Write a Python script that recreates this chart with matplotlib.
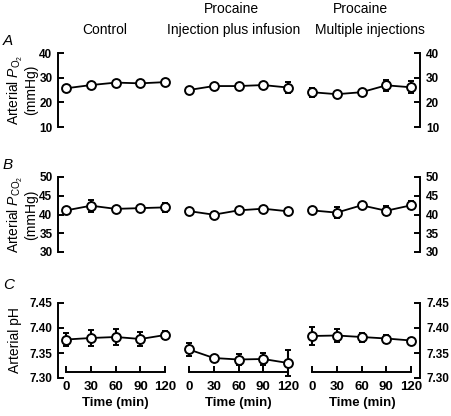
import numpy as np
import matplotlib
matplotlib.use('Agg')
import matplotlib.pyplot as plt

plt.rcParams['font.family'] = ['Liberation Sans', 'DejaVu Sans']
plt.rcParams['mathtext.fontset'] = 'custom'
plt.rcParams['mathtext.rm'] = 'Liberation Sans'
plt.rcParams['mathtext.it'] = 'Liberation Sans:italic'
plt.rcParams['mathtext.bf'] = 'Liberation Sans:bold'

times = [0, 30, 60, 90, 120]
groups = ['Control', 'Procaine\nInjection plus infusion', 'Procaine\nMultiple injections']

# panel A: arterial PO2 (mmHg)
po2_mean = [[25.7, 27.0, 28.0, 27.7, 28.2],
            [25.0, 26.6, 26.6, 27.0, 26.0],
            [24.1, 23.3, 24.1, 26.9, 26.1]]
po2_err = [[0.6, 0.6, 0.6, 0.6, 0.6],
           [0.6, 0.8, 0.6, 0.6, 2.3],
           [1.8, 0.6, 0.8, 2.2, 2.4]]

# panel B: arterial PCO2 (mmHg)
pco2_mean = [[41.1, 42.35, 41.5, 41.7, 41.9],
             [40.9, 39.95, 41.1, 41.55, 40.85],
             [41.1, 40.5, 42.45, 41.0, 42.45]]
pco2_err = [[0.5, 1.6, 0.5, 0.5, 1.3],
            [0.5, 0.6, 0.5, 0.5, 0.5],
            [0.5, 1.5, 0.5, 1.25, 1.1]]

# panel C: arterial pH
ph_mean = [[7.377, 7.380, 7.382, 7.378, 7.386],
           [7.357, 7.340, 7.337, 7.338, 7.330],
           [7.384, 7.385, 7.382, 7.379, 7.375]]
ph_err = [[0.0135, 0.016, 0.0155, 0.015, 0.008],
          [0.0135, 0.004, 0.012, 0.012, 0.025],
          [0.018, 0.0135, 0.009, 0.008, 0.005]]

rows = [
    ('A', po2_mean, po2_err, (10, 40), [10, 20, 30, 40], '%d',
     'Arterial $\\mathit{P}_{\\mathrm{O_2}}$\n(mmHg)'),
    ('B', pco2_mean, pco2_err, (30, 50), [30, 35, 40, 45, 50], '%d',
     'Arterial $\\mathit{P}_{\\mathrm{CO_2}}$\n(mmHg)'),
    ('C', ph_mean, ph_err, (7.30, 7.45), [7.30, 7.35, 7.40, 7.45], '%.2f',
     'Arterial pH'),
]

W, H = 452, 416
fig = plt.figure(figsize=(W / 100, H / 100), dpi=100)

pxmin = 0.825  # pixels per minute
lefts = [58, 180.75, 303.75]
xlims = [(-10, 130), (-10, 130), (-10, 131.5)]
row_tb = [(53, 127), (177, 252), (303, 378)]
letter_y = [41, 165, 285]
ylab_x = [22, 22, 15]

for r, (letter, means, errs, ylim, yticks, fmt, ylab) in enumerate(rows):
    top, bot = row_tb[r]
    for g in range(3):
        x0, x1 = xlims[g]
        axw = (x1 - x0) * pxmin
        ax = fig.add_axes([lefts[g] / W, 1 - bot / H, axw / W, (bot - top) / H])
        ax.patch.set_visible(False)
        ax.errorbar(times, means[g], yerr=errs[g], color='black', lw=1.3,
                    elinewidth=1.5, capsize=2.5, capthick=1.5,
                    marker='o', ms=6.4, mfc='white', mec='black', mew=1.4,
                    zorder=3)
        ax.set_xlim(x0, x1)
        ax.set_ylim(*ylim)
        for s in ax.spines.values():
            s.set_visible(False)
            s.set_linewidth(1.4)
        ax.set_yticks(yticks)
        ax.set_yticklabels([fmt % v for v in yticks], fontweight='bold')
        ax.tick_params(axis='y', direction='in', length=4, width=1.4,
                       labelsize=8.5, pad=4)
        if g == 0:
            ax.spines['left'].set_visible(True)
            ax.set_ylabel(ylab, fontsize=10, linespacing=1.0)
            ax.yaxis.set_label_coords((ylab_x[r] - lefts[0]) / axw, 0.5)
            ax.yaxis.label.set_va('center')
        elif g == 2:
            ax.spines['right'].set_visible(True)
            ax.yaxis.tick_right()
        else:
            ax.set_yticks([])
        if r == 2:
            sp = ax.spines['bottom']
            sp.set_visible(True)
            sp.set_bounds(0, 120)
            sp.set_position(('outward', -4))
            ax.set_xticks(times)
            ax.set_xticklabels([str(t) for t in times], fontweight='bold')
            ax.tick_params(axis='x', direction='in', length=4, width=1.4,
                           labelsize=9.5, pad=6)
            ax.set_xlabel('Time (min)', fontsize=9.5, fontweight='bold',
                          labelpad=3)
        else:
            ax.set_xticks([])
    fig.text(3 / W, 1 - letter_y[r] / H, letter, fontsize=11,
             style='italic', va='center', ha='left')

# column titles
fig.text(105 / W, 1 - 30 / H, 'Control', fontsize=10, ha='center', va='center')
fig.text(231 / W, 1 - 9 / H, 'Procaine', fontsize=10, ha='center', va='center')
fig.text(234 / W, 1 - 30 / H, 'Injection plus infusion', fontsize=10,
         ha='center', va='center')
fig.text(360 / W, 1 - 9 / H, 'Procaine', fontsize=10, ha='center', va='center')
fig.text(370 / W, 1 - 30 / H, 'Multiple injections', fontsize=10,
         ha='center', va='center')

fig.savefig('out.png', dpi=100)
